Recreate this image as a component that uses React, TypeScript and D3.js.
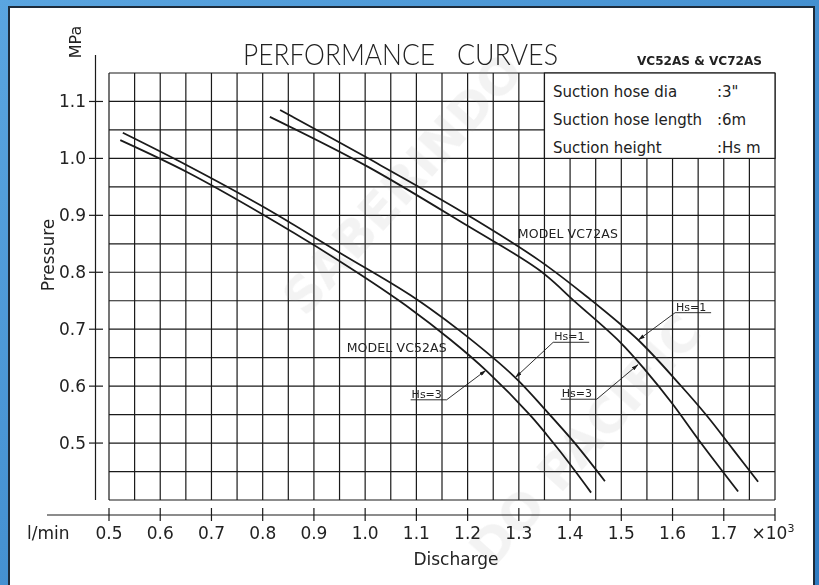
import React from 'react';
import * as d3 from 'd3';

// discharge (x10^3 l/min) vs pressure (MPa)
const vc52Hs1 = [[0.527, 1.045], [0.652, 0.988], [0.801, 0.915], [0.951, 0.834], [1.088, 0.76], [1.185, 0.697], [1.293, 0.615], [1.351, 0.559], [1.41, 0.499], [1.468, 0.433]];
const vc52Hs3 = [[0.522, 1.032], [0.652, 0.976], [0.801, 0.901], [0.951, 0.819], [1.068, 0.749], [1.166, 0.682], [1.238, 0.626], [1.322, 0.549], [1.38, 0.486], [1.441, 0.413]];
const vc72Hs1 = [[0.834, 1.085], [1.004, 1.001], [1.199, 0.901], [1.341, 0.82], [1.433, 0.757], [1.533, 0.681], [1.615, 0.602], [1.667, 0.548], [1.718, 0.489], [1.767, 0.432]];
const vc72Hs3 = [[0.814, 1.073], [1.004, 0.986], [1.199, 0.882], [1.341, 0.803], [1.41, 0.748], [1.498, 0.677], [1.546, 0.629], [1.599, 0.57], [1.654, 0.502], [1.728, 0.415]];

const xTicks = [0.5, 0.6, 0.7, 0.8, 0.9, 1.0, 1.1, 1.2, 1.3, 1.4, 1.5, 1.6, 1.7];
const yTicks = [0.5, 0.6, 0.7, 0.8, 0.9, 1.0, 1.1];

const infoRows = ['Suction hose dia', 'Suction hose length', 'Suction height'];
const infoValues = [':3"', ':6m', ':Hs m'];

// Hs callouts: label anchor (end of underline) and arrow tip on the curve
const callouts = [
  { text: 'Hs=1', side: 'right', at: [1.367, 0.677], tip: [1.293, 0.615] },
  { text: 'Hs=3', side: 'left', at: [1.159, 0.576], tip: [1.236, 0.628] },
  { text: 'Hs=1', side: 'right', at: [1.605, 0.729], tip: [1.533, 0.681] },
  { text: 'Hs=3', side: 'left', at: [1.452, 0.577], tip: [1.533, 0.638] },
];
const models = [
  { text: 'MODEL VC52AS', at: [0.964, 0.66] },
  { text: 'MODEL VC72AS', at: [1.298, 0.86] },
];

const W = 819;
const H = 585;

export default function App() {
  const x = d3.scaleLinear().domain([0.5, 1.8]).range([109, 775]);
  const y = d3.scaleLinear().domain([0.4, 1.15]).range([500, 73]);

  const line = d3.line<number[]>()
    .x(d => x(d[0]))
    .y(d => y(d[1]))
    .curve(d3.curveCatmullRom.alpha(0.5));

  const vGrid = d3.range(0, 27).map(i => 0.5 + i * 0.05);
  const hGrid = d3.range(0, 16).map(i => 0.4 + i * 0.05);
  const ink = '#1a1a1a';

  return (
    <svg width={W} height={H} style={{ position: 'absolute', left: 0, top: 0 }}
      fontFamily="'DejaVu Sans', sans-serif">
      <defs>
        <linearGradient id="bg" x1="0" y1="0" x2="1" y2="1">
          <stop offset="0" stopColor="#5aa5e0" />
          <stop offset="1" stopColor="#2f7cc2" />
        </linearGradient>
        <marker id="arr" viewBox="0 0 10 6" refX="10" refY="3" markerWidth="7" markerHeight="4"
          orient="auto" markerUnits="userSpaceOnUse">
          <path d="M0,0 L10,3 L0,6 Z" fill={ink} />
        </marker>
      </defs>
      <rect width={W} height={H} fill="url(#bg)" />
      <rect x={9} y={7} width={805} height={600} fill="#fff" stroke="#1d2b3a" strokeWidth={2} />

      {/* grid */}
      <g stroke={ink} strokeWidth={1.2}>
        {vGrid.map((v, i) => (
          <line key={'v' + i} x1={x(v)} x2={x(v)} y1={y(0.4)} y2={y(1.15)} />
        ))}
        {hGrid.map((v, i) => (
          <line key={'h' + i} x1={x(0.5)} x2={x(1.8)} y1={y(v)} y2={y(v)} />
        ))}
      </g>

      {/* info box covers the grid */}
      <rect x={x(1.35)} y={y(1.15)} width={x(1.8) - x(1.35)} height={y(1.0) - y(1.15)}
        fill="#fff" stroke={ink} strokeWidth={1.2} />
      <g fontSize={15} fill="#222">
        {infoRows.map((t, i) => (
          <text key={t} x={553} y={97 + i * 28}>{t}</text>
        ))}
        {infoValues.map((t, i) => (
          <text key={t} x={717} y={97 + i * 28}>{t}</text>
        ))}
      </g>

      {/* watermark */}
      <g fill="#9a9a9a" opacity={0.12} fontWeight="bold" fontSize={50}>
        <text transform="translate(305,318) rotate(-48)">SABERINDO</text>
        <text transform="translate(492,570) rotate(-48)">DO PACIFIC</text>
      </g>

      {/* curves */}
      <g fill="none" stroke={ink} strokeWidth={1.8}>
        {[vc52Hs1, vc52Hs3, vc72Hs1, vc72Hs3].map((s, i) => (
          <path key={i} d={line(s) || ''} />
        ))}
      </g>

      {/* model labels */}
      <g fontSize={12.5} fill="#222">
        {models.map(m => (
          <text key={m.text} x={x(m.at[0])} y={y(m.at[1])} textLength={100}>{m.text}</text>
        ))}
      </g>

      {/* Hs callouts */}
      <g fontSize={11} fill="#222">
        {callouts.map((c, i) => {
          const ax = x(c.at[0]);
          const ay = y(c.at[1]);
          const w = 32;
          const x0 = c.side === 'right' ? ax : ax - w - 4;
          return (
            <g key={i}>
              <text x={x0 + 1} y={ay - 2}>{c.text}</text>
              <line x1={x0} x2={x0 + w + 4} y1={ay} y2={ay} stroke={ink} strokeWidth={0.9} />
              <line x1={ax} y1={ay} x2={x(c.tip[0])} y2={y(c.tip[1])}
                stroke={ink} strokeWidth={0.9} markerEnd="url(#arr)" />
            </g>
          );
        })}
      </g>

      {/* y axis */}
      <line x1={95.5} x2={95.5} y1={55} y2={500} stroke={ink} strokeWidth={1.2} />
      <g fontSize={17} fill="#222" textAnchor="end">
        {yTicks.map(t => (
          <g key={t}>
            <line x1={89} x2={103} y1={y(t)} y2={y(t)} stroke={ink} strokeWidth={1.2} />
            <text x={86} y={y(t) + 6}>{t.toFixed(1)}</text>
          </g>
        ))}
      </g>
      <text transform="translate(81,42) rotate(-90)" fontSize={16} textAnchor="middle" fill="#222">MPa</text>
      <text transform="translate(54,255) rotate(-90)" fontSize={17} textAnchor="middle" fill="#222">Pressure</text>

      {/* x axis */}
      <line x1={47} x2={x(1.8)} y1={515} y2={515} stroke={ink} strokeWidth={1.2} />
      <g fontSize={17} fill="#222" textAnchor="middle">
        {[...xTicks, 1.8].map(t => (
          <line key={t} x1={x(t)} x2={x(t)} y1={508} y2={521} stroke={ink} strokeWidth={1.2} />
        ))}
        {xTicks.map(t => (
          <text key={t} x={x(t)} y={539}>{t.toFixed(1)}</text>
        ))}
        <text x={x(1.8) - 2} y={539}>×10<tspan fontSize={11} dy={-7}>3</tspan></text>
      </g>
      <text x={27} y={539} fontSize={17} fill="#222">l/min</text>
      <text x={456} y={565} fontSize={17} fill="#222" textAnchor="middle">Discharge</text>

      {/* title */}
      <g fill="#222" fontFamily="Lato, 'DejaVu Sans', sans-serif" fontWeight={300} fontSize={29}>
        <text x={243} y={65} textLength={192} lengthAdjust="spacingAndGlyphs">PERFORMANCE</text>
        <text x={457} y={65} textLength={101} lengthAdjust="spacingAndGlyphs">CURVES</text>
      </g>
      <text x={637} y={65} fontSize={13} fontWeight="bold" fill="#222" textLength={125}
        lengthAdjust="spacingAndGlyphs">VC52AS &amp; VC72AS</text>
    </svg>
  );
}
